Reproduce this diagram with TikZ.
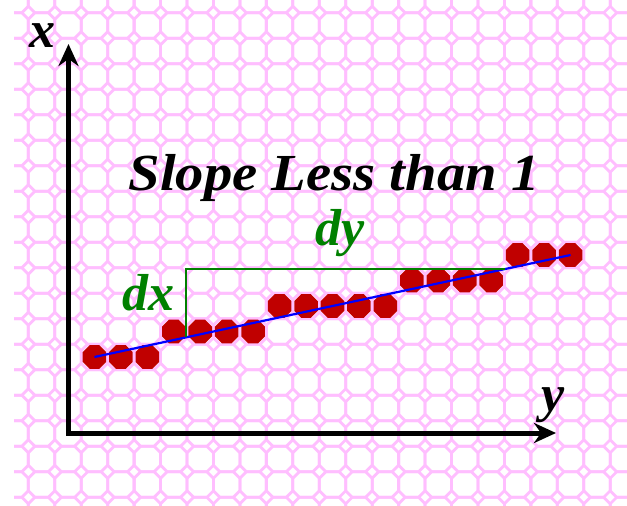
\documentclass[tikz,border=0pt]{standalone}
\usepackage{fontspec}
\setmainfont{Liberation Serif}
\usetikzlibrary{arrows.meta,shapes.geometric}
\definecolor{gridpink}{RGB}{255,190,255}
\definecolor{dotred}{RGB}{192,0,0}
\definecolor{slopegreen}{RGB}{0,128,0}
\begin{document}
\begin{tikzpicture}[x=1pt,y=-1pt,
  cellline/.style={draw=gridpink,line width=2.8pt,line join=miter},
  dotnode/.style={regular polygon,regular polygon sides=8,minimum size=25.5pt,inner sep=0pt,fill=dotred,draw=none},
  axisline/.style={line width=5pt,line join=miter,{Stealth[length=22pt,width=20pt,inset=7pt]}-{Stealth[length=22pt,width=20pt,inset=7pt]}},
  lbl/.style={font=\fontsize{52}{52}\selectfont\bfseries\itshape,inner sep=0pt,anchor=base},
  ]
\useasboundingbox (0,0) rectangle (627,506);
\fill[white] (0,0) rectangle (627,506);
% background octagon tiling
\begin{scope}
\clip (14,0) rectangle (627,506);
\foreach \i in {-2,...,21} {
  \foreach \j in {-3,...,17} {
    \draw[cellline,shift={({68+26.45*\i},{433.5-25.5*\j})}]
      (-6.725,-12.75) -- (6.725,-12.75) -- (13.225,-6.25) -- (13.225,6.25)
      -- (6.725,12.75) -- (-6.725,12.75) -- (-13.225,6.25) -- (-13.225,-6.25) -- cycle;
  }
}
\end{scope}
% axes
\coordinate (xtip) at (68.5,44);
\coordinate (origin) at (68.5,433);
\coordinate (ytip) at (556,433);
\draw[axisline] (xtip) -- (origin) -- (ytip);
% dots
\foreach \i/\j [count=\n] in {1/3,2/3,3/3,4/4,5/4,6/4,7/4,8/5,9/5,10/5,11/5,12/5,13/6,14/6,15/6,16/6,17/7,18/7,19/7}
  \node[dotnode] (d\n) at ({68+26.45*\i},{433.5-25.5*\j}) {};
% ideal line
\draw[blue,line width=2.2pt] (d1.center) -- (d19.center);
% dx / dy
\coordinate (gstart) at (186,337.4);
\coordinate (gcorner) at (186,269);
\coordinate (gend) at (505.3,269);
\draw[slopegreen,line width=1.6pt] (gstart) -- (gcorner) -- (gend);
% labels
\node[lbl] (xlabel) at (42,47) {x};
\node[lbl] (ylabel) at (553,411) {y};
\node[lbl] (title) at (334,190) {\scalebox{1.09}[1]{Slope Less than 1}};
\node[lbl,text=slopegreen] (dxlabel) at (148,310) {dx};
\node[lbl,text=slopegreen] (dylabel) at (340,245) {dy};
\end{tikzpicture}
\end{document}
